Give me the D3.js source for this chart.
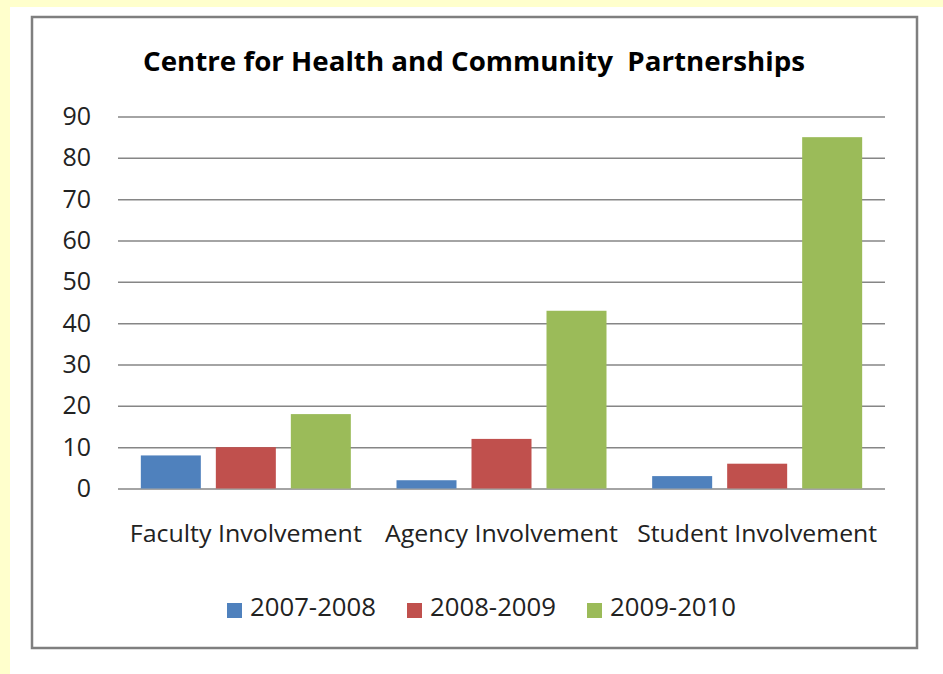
<!DOCTYPE html>
<html>
<head>
<meta charset="utf-8">
<script src="https://cdn.jsdelivr.net/npm/d3@7"></script>
<style>
  body { margin: 0; background: #ffffcc; }
  svg text { font-family: "Open Sans", "DejaVu Sans", sans-serif; fill: #222; }
</style>
</head>
<body>
<div id="chart"></div>
<script>
var categories = ["Faculty Involvement", "Agency Involvement", "Student Involvement"];
var series = ["2007-2008", "2008-2009", "2009-2010"];
var values2007 = [8, 2, 3];
var values2008 = [10, 12, 6];
var values2009 = [18, 43, 85];
var yTicks = [0, 10, 20, 30, 40, 50, 60, 70, 80, 90];
var colors = ["#4f81bd", "#c0504d", "#9bbb59"];

var allValues = [values2007, values2008, values2009];

var width = 943,
    height = 674;

var svg = d3.select("#chart")
    .append("svg")
    .attr("width", width)
    .attr("height", height);

// white page area and chart frame
svg.append("rect")
    .attr("x", 10).attr("y", 7)
    .attr("width", width - 10).attr("height", height - 7)
    .attr("fill", "white");

svg.append("rect")
    .attr("x", 32).attr("y", 17)
    .attr("width", 885).attr("height", 631)
    .attr("fill", "white")
    .attr("stroke", "#7f7f7f")
    .attr("stroke-width", 2.5);

svg.append("text")
    .attr("x", 474)
    .attr("y", 71)
    .attr("text-anchor", "middle")
    .attr("textLength", 662)
    .attr("lengthAdjust", "spacingAndGlyphs")
    .style("font-size", "27px")
    .style("font-weight", "bold")
    .style("fill", "#000")
    .style("white-space", "pre")
    .text("Centre for Health and Community  Partnerships");

var x0 = d3.scaleBand()
    .domain(categories)
    .range([118, 885]);

var x1 = d3.scaleBand()
    .domain(series)
    .range([0, 210])
    .paddingInner(0.2);

var groupOffset = (x0.bandwidth() - 210) / 2;

var y = d3.scaleLinear()
    .domain([0, 90])
    .range([488.5, 116.5]);

// gridlines and y labels
var yAxis = d3.axisLeft(y)
    .tickValues(yTicks)
    .tickSize(-(885 - 118))
    .tickPadding(27);

var gy = svg.append("g")
    .attr("transform", "translate(118,0)")
    .call(yAxis);

gy.select(".domain").remove();
gy.selectAll(".tick line")
    .attr("stroke", "#868686")
    .attr("stroke-width", 1.5);
gy.selectAll(".tick text")
    .style("font-size", "25px")
    .style("font-family", "'Open Sans', sans-serif")
    .attr("fill", "#222");

// bars
var groups = svg.append("g")
    .selectAll("g")
    .data(categories)
    .enter()
    .append("g")
    .attr("transform", function(d){ return "translate(" + (x0(d) + groupOffset) + ",0)"; });

groups.selectAll("rect")
    .data(function(d, i){
        return series.map(function(s, j){ return {series: s, value: allValues[j][i], idx: j}; });
    })
    .enter()
    .append("rect")
    .attr("x", function(d){ return x1(d.series); })
    .attr("width", x1.bandwidth())
    .attr("y", function(d){ return y(d.value); })
    .attr("height", function(d){ return y(0) - y(d.value); })
    .attr("fill", function(d){ return colors[d.idx]; });

// category labels
var catWidths = [232, 233, 240];
svg.append("g")
    .selectAll("text")
    .data(categories)
    .enter()
    .append("text")
    .attr("x", function(d){ return x0(d) + x0.bandwidth() / 2; })
    .attr("y", 542)
    .attr("text-anchor", "middle")
    .attr("textLength", function(d, i){ return catWidths[i]; })
    .attr("lengthAdjust", "spacingAndGlyphs")
    .style("font-size", "24px")
    .text(function(d){ return d; });

// legend
var legendX = [227, 407, 587];
var legend = svg.append("g")
    .selectAll("g")
    .data(series)
    .enter()
    .append("g")
    .attr("transform", function(d, i){ return "translate(" + legendX[i] + ",0)"; });

legend.append("rect")
    .attr("x", 0).attr("y", 603)
    .attr("width", 15).attr("height", 15)
    .attr("fill", function(d, i){ return colors[i]; });

legend.append("text")
    .attr("x", 23)
    .attr("y", 616)
    .attr("textLength", 126)
    .attr("lengthAdjust", "spacingAndGlyphs")
    .style("font-size", "25px")
    .text(function(d){ return d; });
</script>
</body>
</html>
